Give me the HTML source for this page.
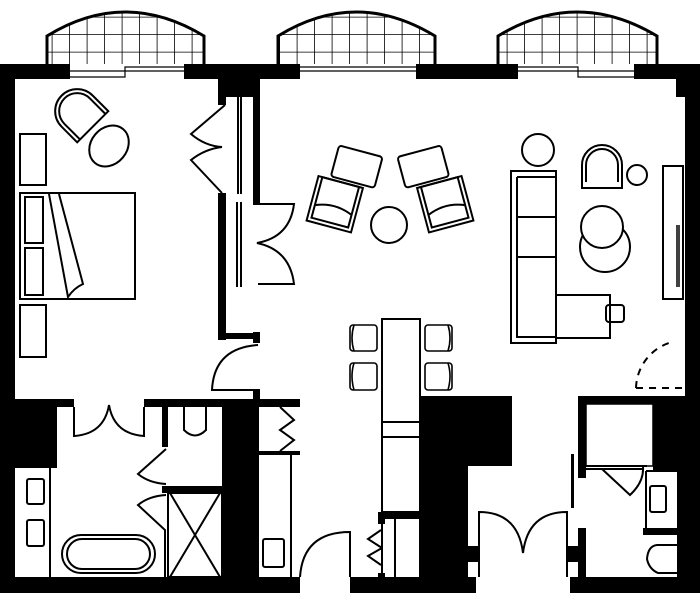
<!DOCTYPE html>
<html><head><meta charset="utf-8"><style>html,body{margin:0;padding:0;background:#fff}svg{display:block}</style></head>
<body>
<svg width="700" height="593" viewBox="0 0 700 593" xmlns="http://www.w3.org/2000/svg">
<defs>
<clipPath id="b1"><path d="M47,36 Q125,-12 204,36 V64 H47Z"/></clipPath>
<clipPath id="b2"><path d="M278,36 Q356,-12 435,36 V64 H278Z"/></clipPath>
<clipPath id="b3"><path d="M498,36 Q577,-12 657,36 V64 H498Z"/></clipPath>
<pattern id="grid" width="17.5" height="17.5" patternUnits="userSpaceOnUse"><path d="M17.5,0 V17.5 M0,17.5 H17.5" stroke="#000" stroke-width="1.6" fill="none"/></pattern>
</defs>
<g stroke="none">
<rect x="40" y="0" width="170" height="64" fill="url(#grid)" clip-path="url(#b1)"/>
<rect x="270" y="0" width="170" height="64" fill="url(#grid)" clip-path="url(#b2)"/>
<rect x="490" y="0" width="170" height="64" fill="url(#grid)" clip-path="url(#b3)"/>
</g>
<g fill="none" stroke="#000" stroke-width="3">
<path d="M47,64 V36 Q125,-12 204,36 V64"/>
<path d="M278,64 V36 Q356,-12 435,36 V64"/>
<path d="M498,64 V36 Q577,-12 657,36 V64"/>
</g>
<g fill="none" stroke="#000" stroke-width="1.2">
<path d="M70,71 H184 M70,77 H125 V67 H184 M300,71 H416 M300,67 H416 M518,71 H634 M518,67 H578 V77 H634"/>
</g>
<g fill="#000">
<rect x="0" y="64" width="70" height="15"/>
<rect x="184" y="64" width="116" height="15"/>
<rect x="218" y="64" width="42" height="33"/>
<rect x="416" y="64" width="102" height="15"/>
<rect x="634" y="64" width="66" height="15"/>
<rect x="676" y="64" width="24" height="33"/>
<rect x="685" y="64" width="15" height="529"/>
<rect x="0" y="64" width="15" height="529"/>
<rect x="218" y="97" width="8" height="8"/>
<rect x="253" y="97" width="7" height="108"/>
<rect x="218" y="193" width="8" height="147"/>
<rect x="218" y="333" width="40" height="6"/>
<rect x="253" y="332" width="7" height="11"/>
<rect x="253" y="389" width="7" height="10"/>
<rect x="15" y="399" width="59" height="8"/>
<rect x="144" y="399" width="156" height="8"/>
<rect x="15" y="399" width="42" height="69"/>
<rect x="162" y="407" width="6" height="40"/>
<rect x="222" y="399" width="36" height="179"/>
<rect x="162" y="486" width="60" height="7"/>
<rect x="258" y="451" width="42" height="4"/>
<rect x="0" y="577" width="300" height="16"/>
<rect x="378" y="512" width="42" height="7"/>
<rect x="378" y="512" width="7" height="12"/>
<rect x="378" y="573" width="7" height="5"/>
<rect x="420" y="396" width="92" height="70"/>
<rect x="420" y="396" width="48" height="197"/>
<rect x="350" y="577" width="126" height="16"/>
<rect x="466" y="546" width="13" height="16"/>
<rect x="566" y="546" width="12" height="16"/>
<rect x="570" y="577" width="130" height="16"/>
<rect x="578" y="396" width="122" height="8"/>
<rect x="578" y="396" width="8" height="82"/>
<rect x="578" y="528" width="8" height="65"/>
<rect x="653" y="396" width="47" height="76"/>
<rect x="677" y="396" width="23" height="197"/>
<rect x="643" y="528" width="34" height="7"/>
<rect x="571" y="454" width="3" height="54"/>
</g>
<g fill="none" stroke="#000" stroke-width="2">
<rect x="20" y="134" width="26" height="51"/>
<rect x="20" y="305" width="26" height="52"/>
<rect x="20" y="193" width="115" height="106"/>
<rect x="25" y="197" width="18" height="46"/>
<rect x="25" y="248" width="18" height="47"/>
<path d="M49,194 L68,297 Q74,288 83,284 L59,194"/>
<g transform="rotate(-45 80 114)"><path d="M58,132 V110 A22,22 0 0 1 102,110 V132 Z M62,132 V110 A18,18 0 0 1 98,110 V132"/></g>
<ellipse cx="109" cy="146" rx="18" ry="22" transform="rotate(40 109 146)"/>
<path d="M225,105 L191,134 Q205,146 222,147 Q205,149 191,160 L222,193"/>
<path d="M238,97 V194 M241,97 V194 M225,202 V287 M237,202 V287 M241,202 V287"/>
<path d="M258,204 H294 Q290,237 257,243 Q290,250 294,284 H258"/>
<path d="M258,345 Q214,348 212,390 H258"/>
<path d="M74,407 V436 Q104,434 109,405 Q114,434 144,436 V407"/>
<path d="M184,407 V430 Q195,441 206,430 V407"/>
<path d="M166,449 L138,474 Q149,483 166,484"/>
<path d="M166,495 Q149,496 138,505 L165,530 V577 M168,495 V577"/>
<rect x="168" y="493" width="54" height="84"/>
<path d="M170,493 L220,577 M220,493 L170,577"/>
<rect x="62" y="535" width="93" height="38" rx="19"/>
<rect x="67" y="539" width="83" height="30" rx="15"/>
<rect x="27" y="479" width="17" height="25" rx="2"/>
<rect x="27" y="520" width="17" height="26" rx="2"/>
<path d="M50,468 V577"/>
<path d="M258,407 V451 M280,407 L294,420 L280,430 L294,440 L280,451"/>
<path d="M291,455 V577 M258,455 V577"/>
<rect x="263" y="539" width="21" height="28" rx="2"/>
<path d="M300,577 Q303,532 350,532 V577"/>
<rect x="382" y="319" width="38" height="193"/>
<path d="M382,422 H420 M382,437 H420 M395,519 V577 M382,519 V577 M420,519 V577"/>
<path d="M382,548 L368,539 L381,530 M382,548 L368,556 L381,565"/>
<g stroke-width="1.6">
<rect x="350" y="325" width="27" height="26" rx="3"/><path d="M354,325 Q350,338 354,351"/>
<rect x="350" y="363" width="27" height="27" rx="3"/><path d="M354,363 Q350,376 354,390"/>
<rect x="425" y="325" width="27" height="26" rx="3"/><path d="M448,325 Q452,338 448,351"/>
<rect x="425" y="363" width="27" height="27" rx="3"/><path d="M448,363 Q452,376 448,390"/>
</g>
<g transform="rotate(15 346 170)">
<rect x="333" y="148" width="45" height="32" rx="3"/>
<rect x="321" y="183" width="46" height="46"/><rect x="325" y="183" width="38" height="42"/>
<path d="M325,212 Q344,204 363,212"/>
</g>
<g transform="rotate(-15 434 170)">
<rect x="402" y="148" width="45" height="32" rx="3"/>
<rect x="413" y="183" width="46" height="46"/><rect x="417" y="183" width="38" height="42"/>
<path d="M417,212 Q436,204 455,212"/>
</g>
<circle cx="389" cy="225" r="18"/>
<path d="M511,171 H556 V295 H610 V338 H556 V343 H511 Z"/>
<path d="M517,177 H556 M517,177 V337 H555 M517,217 H555 M517,257 H555 M556,295 V338"/>
<rect x="606" y="305" width="18" height="17" rx="3"/>
<circle cx="538" cy="150" r="16"/>
<path d="M582,188 V165 A20,20 0 0 1 622,165 V188 Z M586,182 V165 A16,16 0 0 1 618,165 V182"/>
<circle cx="637" cy="175" r="10"/>
<circle cx="605" cy="247" r="25"/>
<circle cx="602" cy="227" r="21" fill="#fff"/>
<rect x="663" y="166" width="20" height="133"/>
<path d="M677,225 V287 M679,225 V287" stroke-width="1.5"/>
<path d="M636,388 H685" stroke-dasharray="7,6"/>
<path d="M636,388 A49,49 0 0 1 672,342" stroke-dasharray="7,6"/>
<path d="M479,577 V512 Q518,512 523,553 Q528,512 567,512 V577"/>
<rect x="586" y="404" width="67" height="62" stroke-width="1.5"/>
<path d="M586,466 H647 M586,469 H643"/>
<path d="M602,469 L630,495 Q644,482 643,467"/>
<path d="M646,471 V528 M677,471 H646"/>
<rect x="650" y="486" width="16" height="26" rx="2"/>
<path d="M677,545 H657 Q648,546 647,559 Q649,569 658,573 H677"/>
</g>
</svg>
</body></html>
